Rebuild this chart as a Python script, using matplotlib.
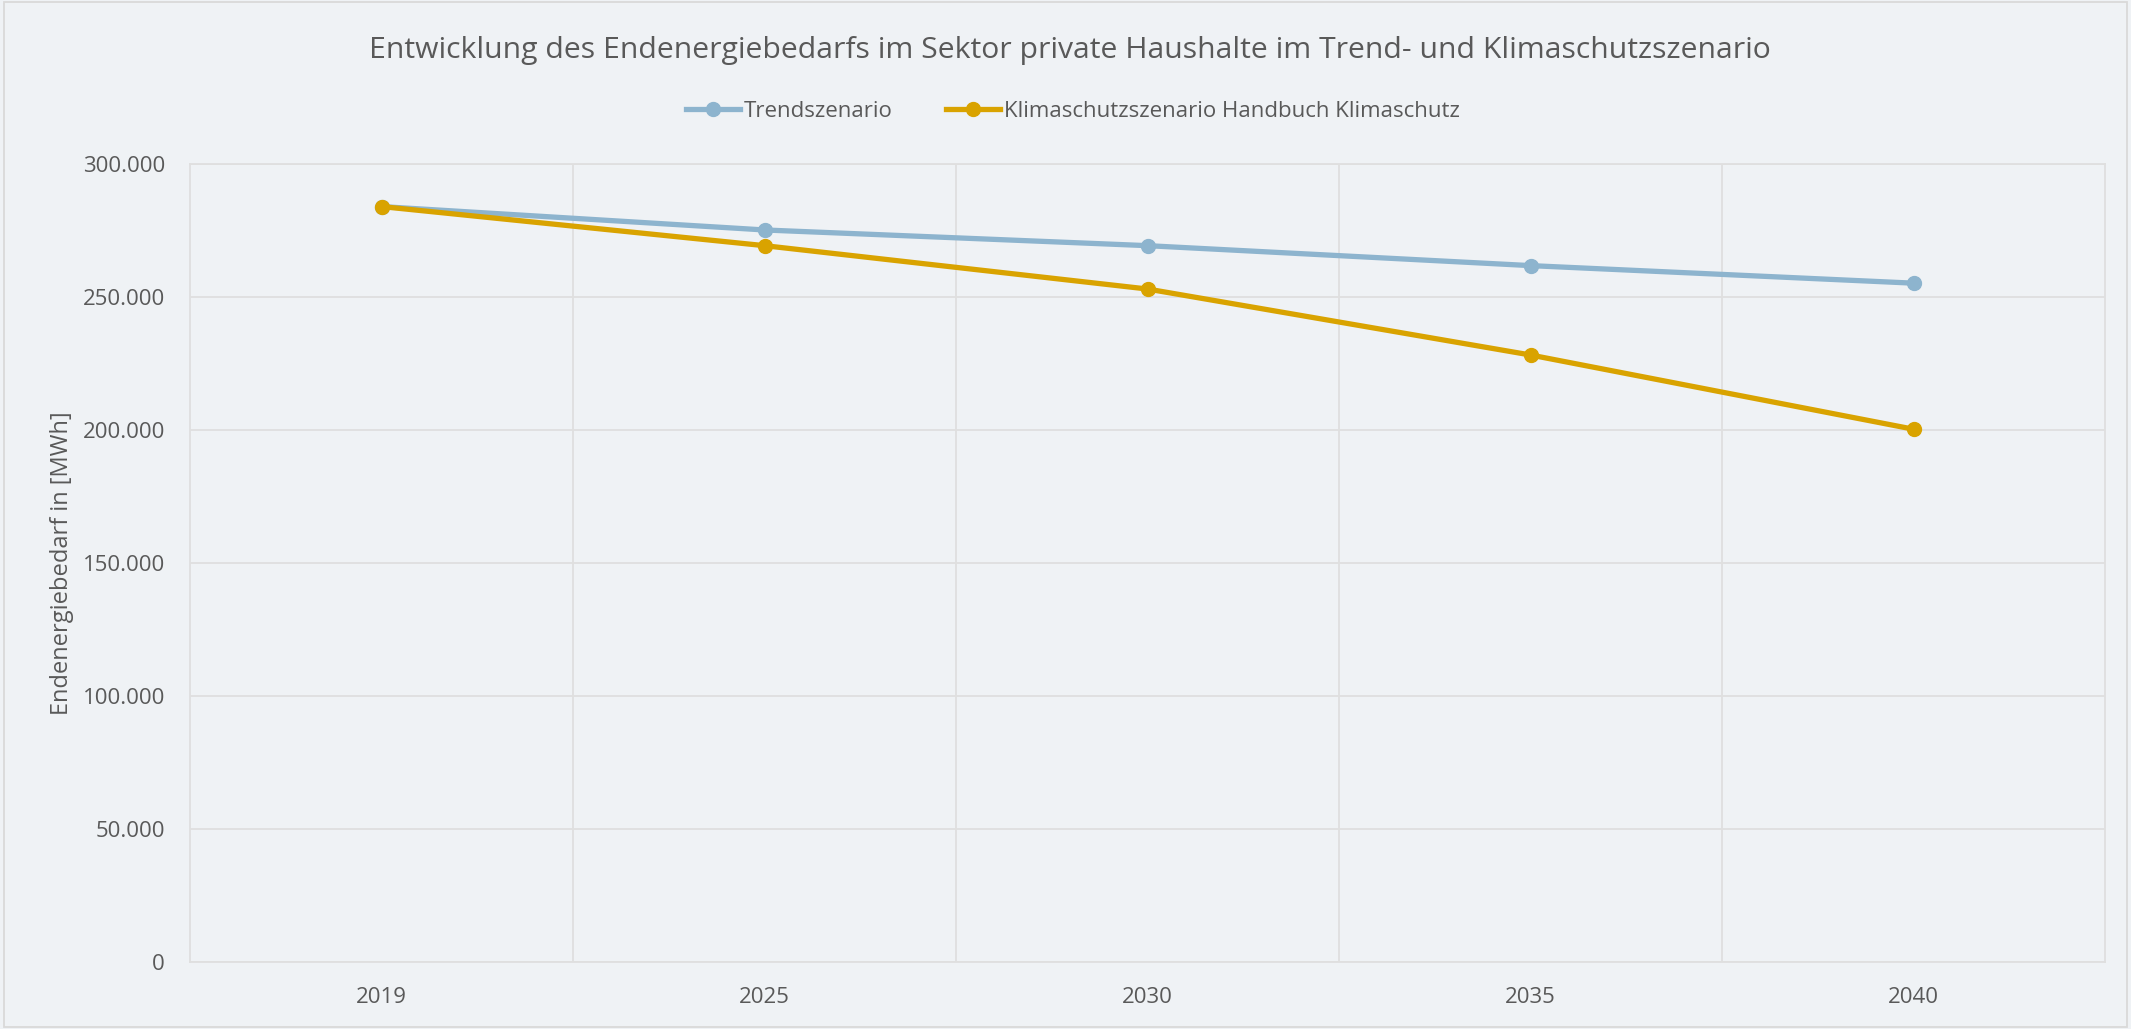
import numpy as np
import matplotlib
matplotlib.use('Agg')
import matplotlib.pyplot as plt
from matplotlib.patches import Rectangle
from matplotlib.ticker import FuncFormatter

plt.rcParams['font.family'] = ['Open Sans', 'DejaVu Sans']

# Data
years = ['2019', '2025', '2030', '2035', '2040']
trend = [284000, 275200, 269300, 261800, 255200]
klima = [284000, 269300, 253000, 228200, 200300]
series_names = ['Trendszenario', 'Klimaschutzszenario Handbuch Klimaschutz']

bg = '#EFF2F5'
txt = '#595959'
grid_col = '#DFDFDF'
col_trend = '#8DB4CE'
col_klima = '#D9A300'

fig = plt.figure(figsize=(21.31, 10.29), dpi=100, facecolor=bg)
ax = fig.add_axes([190/2131, 1-962/1029, (2105-190)/2131, (962-164)/1029])
ax.set_facecolor(bg)

x = np.arange(len(years))
ax.plot(x, trend, color=col_trend, lw=3.8, marker='o', ms=10, label=series_names[0], zorder=3)
ax.plot(x, klima, color=col_klima, lw=3.8, marker='o', ms=10, label=series_names[1], zorder=4)

ax.set_xlim(-0.5, len(years) - 0.5)
ax.set_ylim(0, 300000)
ax.set_yticks(np.arange(0, 300001, 50000))
ax.yaxis.set_major_formatter(FuncFormatter(lambda v, p: f'{int(v):,}'.replace(',', '.')))
ax.set_xticks(x)
ax.set_xticklabels(years)
ax.set_xticks(np.arange(0.5, len(years) - 1, 1), minor=True)

ax.grid(axis='y', which='major', color=grid_col, lw=1.3)
ax.grid(axis='x', which='minor', color=grid_col, lw=1.3)
ax.set_axisbelow(True)
for s in ax.spines.values():
    s.set_color(grid_col)
    s.set_linewidth(1.3)
ax.tick_params(which='both', length=0, labelsize=16, labelcolor=txt)
ax.tick_params(axis='y', pad=18)
ax.tick_params(axis='x', pad=18)

ax.set_ylabel('Endenergiebedarf in [MWh]', fontsize=17, color=txt, labelpad=6)

fig.text(0.502, 0.951, 'Entwicklung des Endenergiebedarfs im Sektor private Haushalte im Trend- und Klimaschutzszenario',
         ha='center', va='center', fontsize=21.7, color=txt)

fig.legend(loc='center', bbox_to_anchor=(0.5036, 0.892), ncol=2, frameon=False,
           fontsize=16, labelcolor=txt, handlelength=2.4, handletextpad=0.2,
           columnspacing=2.4)

fig.patches.append(Rectangle((0.002, 0.002), 0.996, 0.996, transform=fig.transFigure,
                             fill=False, edgecolor='#D9D9D9', lw=1.3))

fig.savefig('out.png', dpi=100, facecolor=bg)
